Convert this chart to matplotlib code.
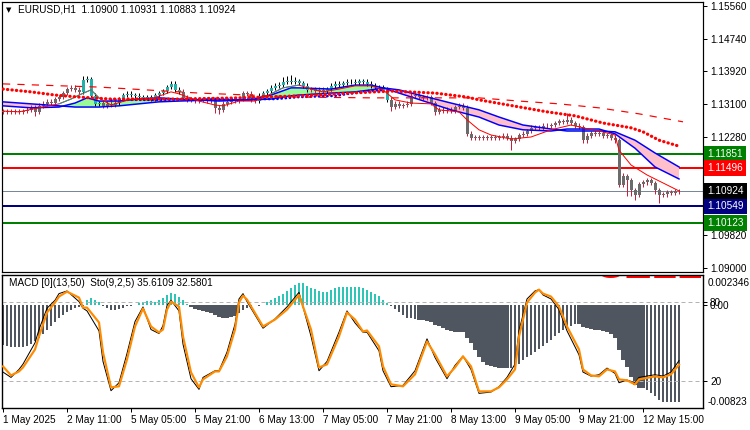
import numpy as np
import matplotlib.pyplot as plt
from matplotlib.transforms import blended_transform_factory

# EURUSD H1, 1 May - 12 May 2025 (one value per hourly bar)
closes = [
    1.1291, 1.1293, 1.1291, 1.1293, 1.1291, 1.1293, 1.1296, 1.1301, 1.1291, 1.1306,
    1.1311, 1.1316, 1.1313, 1.1323, 1.1328, 1.1338, 1.1348, 1.1351, 1.1346, 1.1341,
    1.1371, 1.1373, 1.1331, 1.1311, 1.1313, 1.1306, 1.1311, 1.1308, 1.1313, 1.1323,
    1.1333, 1.1336, 1.1333, 1.1331, 1.1328, 1.1326, 1.1328, 1.1323, 1.1333, 1.1338,
    1.1343, 1.1353, 1.1361, 1.1346, 1.1341, 1.1326, 1.1321, 1.1323, 1.1318, 1.1321,
    1.1323, 1.1318, 1.1321, 1.1301, 1.1296, 1.1311, 1.1316, 1.1321, 1.1318, 1.1323,
    1.1338, 1.1336, 1.1321, 1.1318, 1.1331, 1.1338, 1.1343, 1.1351, 1.1356, 1.1358,
    1.1366, 1.1368, 1.1366, 1.1368, 1.1363, 1.1356, 1.1346, 1.1348, 1.1343, 1.1346,
    1.1343, 1.1348, 1.1356, 1.1361, 1.1358, 1.1363, 1.1366, 1.1366, 1.1363, 1.1368,
    1.1366, 1.1361, 1.1356, 1.1353, 1.1353, 1.1346, 1.1321, 1.1303, 1.1311, 1.1306,
    1.1308, 1.1311, 1.1331, 1.1333, 1.1328, 1.1326, 1.1328, 1.1313, 1.1291, 1.1296,
    1.1293, 1.1296, 1.1293, 1.1303, 1.1306, 1.1301, 1.1236, 1.1226, 1.1228, 1.1226,
    1.1228, 1.1226, 1.1228, 1.1226, 1.1228, 1.1231, 1.1226, 1.1218, 1.1223, 1.1233,
    1.1236, 1.1243, 1.1251, 1.1253, 1.1251, 1.1256, 1.1256, 1.1258, 1.1263, 1.1268,
    1.1266, 1.1271, 1.1263, 1.1256, 1.1253, 1.1220, 1.1231, 1.1238, 1.1236, 1.1238,
    1.1231, 1.1233, 1.1226, 1.1220, 1.1108, 1.1130, 1.1120, 1.1095, 1.1083, 1.1110,
    1.1115, 1.1120, 1.1113, 1.1095, 1.1083, 1.1085, 1.1090, 1.1088, 1.1093, 1.10924,
]
first_open = 1.1293
# wick lengths above / below the body, in pips
wick_up = [
    6, 6, 6, 6, 6, 6, 6, 6, 6, 6,   6, 6, 6, 6, 6, 6, 6, 6, 6, 6,
    10, 8, 6, 6, 6, 6, 6, 6, 6, 6,  6, 6, 6, 6, 6, 6, 6, 6, 6, 6,
    6, 6, 6, 6, 6, 6, 6, 6, 6, 6,   6, 6, 6, 6, 6, 6, 6, 6, 6, 6,
    6, 6, 6, 6, 6, 6, 6, 6, 8, 8,   12, 12, 14, 10, 6, 6, 6, 6, 6, 6,
    6, 6, 6, 6, 6, 6, 6, 6, 6, 6,   6, 6, 6, 6, 6, 6, 6, 6, 6, 6,
    6, 6, 6, 6, 6, 6, 6, 6, 6, 6,   6, 6, 6, 6, 6, 6, 6, 6, 6, 6,
    6, 6, 6, 6, 6, 6, 6, 6, 6, 6,   6, 6, 6, 6, 6, 6, 6, 6, 6, 6,
    6, 18, 6, 6, 6, 6, 6, 6, 6, 6,  6, 6, 6, 6, 6, 8, 6, 6, 6, 6,
    6, 6, 6, 6, 6, 6, 6, 6, 6, 6,
]
wick_dn = [
    6, 6, 6, 6, 6, 6, 6, 6, 10, 6,  6, 6, 6, 6, 6, 6, 6, 6, 6, 6,
    6, 6, 6, 6, 6, 6, 6, 6, 6, 6,   6, 6, 6, 6, 6, 6, 6, 6, 6, 6,
    6, 6, 6, 6, 6, 6, 6, 6, 6, 6,   6, 6, 6, 12, 10, 6, 6, 6, 6, 6,
    6, 6, 6, 6, 6, 6, 6, 6, 6, 6,   6, 6, 6, 6, 6, 6, 6, 6, 6, 6,
    6, 6, 6, 6, 6, 6, 6, 6, 6, 6,   6, 6, 6, 6, 6, 6, 6, 10, 6, 6,
    6, 6, 6, 6, 6, 6, 6, 6, 8, 6,   6, 6, 6, 6, 6, 6, 6, 6, 6, 6,
    6, 6, 6, 6, 6, 6, 6, 22, 6, 6,  6, 6, 6, 6, 6, 6, 6, 6, 6, 6,
    6, 6, 6, 6, 6, 6, 6, 6, 6, 6,   6, 6, 6, 6, 6, 6, 40, 14, 12, 6,
    6, 6, 6, 10, 20, 6, 6, 6, 6, 6,
]
# bars painted in the bullish colour
bull_runs = [(20, 24), (29, 44), (64, 76), (81, 96)]

# moving averages, read at a few bars
dash_idx = [0, 24, 49, 74, 92, 119, 129, 139, 149, 159, 170]
dash_ma = [1.1361, 1.1353, 1.1338, 1.1328, 1.1326, 1.1326, 1.1318, 1.1311, 1.1301, 1.1286, 1.1266]

rdot_idx = [0, 7, 13, 19, 27, 44, 59, 74, 87, 97, 108, 116, 119, 136, 143, 150, 157, 160, 164, 169]
rdot_ma = [1.1348, 1.1341, 1.1333, 1.1328, 1.1323, 1.1323, 1.1326, 1.1331, 1.1338, 1.1343,
           1.1338, 1.1328, 1.1321, 1.1291, 1.1281, 1.1263, 1.1251, 1.1241, 1.1220, 1.1205]

bdot_idx = [27, 44, 62, 68, 74, 83, 91, 95]
bdot_ma = [1.1321, 1.1321, 1.1323, 1.1323, 1.1328, 1.1331, 1.1343, 1.1346]

band_idx = [0, 7, 14, 18, 21, 24, 29, 34, 39, 44, 54, 62, 67, 72, 74, 82, 88, 92, 95,
            99, 112, 119, 124, 130, 137, 141, 149, 153, 158, 163, 169]
band_slow = [1.1316, 1.1311, 1.1306, 1.1303, 1.1303, 1.1303, 1.1306, 1.1311, 1.1316, 1.1318,
             1.1321, 1.1321, 1.1323, 1.1331, 1.1333, 1.1338, 1.1341, 1.1346, 1.1351,
             1.1346, 1.1313, 1.1296, 1.1278, 1.1258, 1.1248, 1.1243, 1.1243, 1.1241, 1.1220,
             1.1188, 1.1153]
band_fast = [1.1306, 1.1301, 1.1303, 1.1313, 1.1326, 1.1318, 1.1318, 1.1323, 1.1326, 1.1323,
             1.1318, 1.1321, 1.1333, 1.1351, 1.1351, 1.1348, 1.1358, 1.1358, 1.1351,
             1.1338, 1.1296, 1.1278, 1.1258, 1.1246, 1.1243, 1.1248, 1.1248, 1.1236, 1.1200,
             1.1153, 1.1123]

thin_idx = [0, 4, 9, 14, 17, 19, 22, 24, 27, 32, 37, 42, 44, 49, 53, 55, 59, 63, 67, 70, 74,
            77, 80, 84, 88, 92, 95, 98, 102, 107, 109, 114, 116, 119, 122, 127, 132, 137,
            142, 145, 149, 153, 154, 157, 161, 164, 169]
thin_ma = [1.1293, 1.1291, 1.1301, 1.1311, 1.1323, 1.1333, 1.1346, 1.1326, 1.1308, 1.1323,
           1.1323, 1.1341, 1.1336, 1.1318, 1.1308, 1.1306, 1.1318, 1.1318, 1.1336, 1.1351,
           1.1358, 1.1348, 1.1341, 1.1348, 1.1356, 1.1356, 1.1346, 1.1321, 1.1313, 1.1311,
           1.1296, 1.1291, 1.1271, 1.1246, 1.1233, 1.1223, 1.1228, 1.1246, 1.1258, 1.1251,
           1.1243, 1.1233, 1.1195, 1.1158, 1.1133, 1.1118, 1.1093]
thin_bull = [(14, 24), (67, 76)]

# horizontal levels: value, colour
levels = [(1.11851, "#008000"), (1.11496, "#ff0000"), (1.10549, "#000080"), (1.10123, "#008000")]
last_price = 1.10924
price_ticks = [1.09000, 1.09820, 1.10640, 1.11460, 1.12280, 1.13100, 1.13920, 1.14740, 1.15560]
hidden_ticks = [1.10640, 1.11460]  # covered by the level tags

# MACD histogram, one value per bar
macd = [
    -0.00322, -0.00330, -0.00338, -0.00338, -0.00338, -0.00338, -0.00330, -0.00314, -0.00290, -0.00266,
    -0.00235, -0.00203, -0.00171, -0.00139, -0.00107, -0.00083, -0.00060, -0.00044, -0.00028, -0.00020,
    -0.00012, 0.00036, 0.00052, 0.00036, 0.00020, -0.00012, -0.00028, -0.00044, -0.00044, -0.00036,
    -0.00028, -0.00012, -0.00012, -0.00004, 0.00012, 0.00020, 0.00028, 0.00028, 0.00020, 0.00036,
    0.00052, 0.00076, 0.00091, 0.00083, 0.00060, 0.00036, 0.00004, -0.00020, -0.00036, -0.00044,
    -0.00052, -0.00060, -0.00068, -0.00083, -0.00099, -0.00107, -0.00107, -0.00099, -0.00091, -0.00068,
    -0.00044, -0.00028, -0.00012, -0.00004, -0.00012, -0.00004, 0.00020, 0.00036, 0.00052, 0.00068,
    0.00083, 0.00107, 0.00131, 0.00155, 0.00171, 0.00171, 0.00147, 0.00131, 0.00123, 0.00107,
    0.00099, 0.00099, 0.00115, 0.00131, 0.00139, 0.00139, 0.00139, 0.00139, 0.00139, 0.00139,
    0.00131, 0.00115, 0.00099, 0.00083, 0.00068, 0.00036, 0.00012, -0.00012, -0.00036, -0.00060,
    -0.00083, -0.00107, -0.00107, -0.00115, -0.00123, -0.00123, -0.00131, -0.00139, -0.00163, -0.00171,
    -0.00187, -0.00203, -0.00211, -0.00219, -0.00219, -0.00219, -0.00266, -0.00306, -0.00362, -0.00417,
    -0.00457, -0.00481, -0.00489, -0.00497, -0.00505, -0.00505, -0.00505, -0.00505, -0.00497, -0.00473,
    -0.00441, -0.00417, -0.00401, -0.00378, -0.00354, -0.00330, -0.00306, -0.00282, -0.00250, -0.00227,
    -0.00203, -0.00187, -0.00171, -0.00155, -0.00155, -0.00179, -0.00187, -0.00195, -0.00203, -0.00203,
    -0.00211, -0.00219, -0.00235, -0.00266, -0.00362, -0.00441, -0.00497, -0.00576, -0.00640, -0.00664,
    -0.00664, -0.00680, -0.00704, -0.00727, -0.00759, -0.00775, -0.00775, -0.00775, -0.00775, -0.00775,
]
macd_solid = [(47, 58), (104, 126), (144, 160)]

# Stochastic (9,2,5): main (black) and signal (orange)
sto_idx = [0, 2, 4, 5, 8, 9, 11, 13, 14, 16, 19, 20, 21, 24, 25, 27, 29, 31, 33, 35,
           37, 39, 40, 41, 42, 44, 45, 47, 49, 50, 53, 54, 56, 58, 59, 60, 61, 65, 68, 71,
           74, 77, 79, 81, 84, 86, 88, 90, 91, 94, 95, 97, 100, 103, 106, 108, 111, 113, 115, 117,
           119, 122, 124, 126, 128, 129, 131, 133, 134, 135, 137, 139, 141, 144, 145, 147, 149, 151, 153, 154,
           156, 158, 159, 163, 165, 167, 169]
sto_sig = [31.3, 24.5, 27.5, 30.5, 44, 53.8, 71.8, 79.3, 83.8, 87.5, 83, 75.5, 75.5, 64.3, 41.8, 15.5, 16.3, 36.5, 61.3, 74.8,
           61.3, 56.8, 59, 74, 80, 76.3, 53.8, 26.8, 15.5, 21.5, 27.5, 27.5, 38.8, 59, 79.3, 84.5, 81.5, 61.3, 66.5, 74,
           85, 59, 30.5, 32.8, 53.8, 71.8, 66.5, 57.5, 58.3, 46.3, 31.3, 17.8, 16.3, 25.3, 50, 40.3, 23.8, 30.5, 38.8, 31.3,
           12.5, 12.5, 15.5, 21.5, 29, 53.8, 79.3, 86.8, 89, 86, 83.8, 76.3, 61.3, 44, 29, 24.5, 23.8, 29, 27.5, 21.5,
           20.8, 17.8, 21.5, 23.8, 23, 25.3, 32.58]
sto_main = [27, 23, 29, 33, 49, 59, 75, 81, 86, 88, 80, 75, 73, 58, 35, 13, 19, 41, 65, 76,
            59, 56, 62, 77, 81, 73, 48, 22, 14, 23, 28, 28, 42, 63, 82, 86, 80, 60, 67, 76,
            87, 54, 28, 35, 57, 73, 64, 57, 57, 43, 28, 16, 17, 28, 52, 38, 22, 32, 39, 29,
            11, 12, 16, 23, 33, 58, 82, 88, 89, 85, 82, 74, 58, 40, 27, 24, 25, 30, 26, 19,
            21, 19, 23, 25, 24, 27, 35.61]

date_idx = [0, 16, 32, 48, 64, 80, 96, 112, 128, 144, 160]
date_labels = ["1 May 2025", "2 May 11:00", "5 May 05:00", "5 May 21:00", "6 May 13:00",
               "7 May 05:00", "7 May 21:00", "8 May 13:00", "9 May 05:00", "9 May 21:00",
               "12 May 15:00"]

plt.rcParams["font.family"] = ["Liberation Sans", "DejaVu Sans"]

W, H = 750, 430
PX = 0.72  # one pixel in points
fs = 7.2

fig = plt.figure(figsize=(W / 100, H / 100), dpi=100)
ax = fig.add_axes([2 / W, 1 - 272 / H, 701 / W, 270 / H])
axm = fig.add_axes([2 / W, 1 - 408 / H, 701 / W, 133 / H])
axs = axm.twinx()

n = len(closes)
xs = np.arange(n)
opens = np.array([first_open] + closes[:-1])
cl = np.array(closes)
hi = np.maximum(opens, cl) + np.array(wick_up) * 1e-4
lo = np.minimum(opens, cl) - np.array(wick_dn) * 1e-4
bull = np.zeros(n, bool)
for a, b in bull_runs:
    bull[a:b + 1] = True

body_col = np.where(bull, "#20b2aa", "#6b6b6b")
wick_col = np.where(bull, "#000000", "#c8203c")

# --- price panel ---
for y, c in levels:
    ax.axhline(y, color=c, lw=2 * PX, zorder=1)
ax.axhline(last_price, color="#778899", lw=1 * PX, zorder=1)

ax.vlines(xs, lo, hi, colors=wick_col, lw=1 * PX, zorder=3)
bottoms = np.minimum(opens, cl)
heights = np.maximum(np.abs(cl - opens), 0.00004)
ax.bar(xs, heights, bottom=bottoms, width=0.75, color=body_col, zorder=4)

bi = np.array(band_idx)
bs = np.array(band_slow)
bf = np.array(band_fast)
ax.fill_between(bi, bs, bf, where=bf <= bs, interpolate=True, color="#ffc0cb", lw=0, zorder=2)
ax.fill_between(bi, bs, bf, where=bf >= bs, interpolate=True, color="#98fb98", lw=0, zorder=2)
ax.plot(bi, bs, color="#0000ff", lw=1.5 * PX, zorder=5)
ax.plot(bi, bf, color="#0000ff", lw=1.5 * PX, zorder=5)

ax.plot(bdot_idx, bdot_ma, color="#0000ff", lw=2.6 * PX, ls=(0, (0.1, 1.5)),
        dash_capstyle="round", zorder=5)
ax.plot(rdot_idx, rdot_ma, color="#ff0000", lw=3.2 * PX, ls=(0, (0.1, 1.3)),
        dash_capstyle="round", zorder=6)
ax.plot(dash_idx, dash_ma, color="#ff0000", lw=1.2 * PX, ls=(0, (6, 6)), zorder=5)

ti = np.array(thin_idx)
tm = np.array(thin_ma)
ax.plot(ti, tm, color="#ff0000", lw=1 * PX, zorder=5)
for a, b in thin_bull:
    m = (ti >= a) & (ti <= b)
    ax.plot(ti[m], tm[m], color="#20a090", lw=1 * PX, zorder=5)

ax.set_xlim(-0.25, 175)
ax.set_ylim(1.08900, 1.15660)
ax.set_xticks([])
ax.yaxis.tick_right()
ax.set_yticks(price_ticks)
ax.set_yticklabels(["" if v in hidden_ticks else f"{v:.5f}" for v in price_ticks])
ax.tick_params(axis="y", labelsize=fs, length=3, width=PX, pad=2)
for s in ax.spines.values():
    s.set_linewidth(1.2 * PX)

tr = blended_transform_factory(ax.transAxes, ax.transData)
for y, c in levels + [(last_price, "#000000")]:
    ax.text(1.006, y, f"{y:.5f}", transform=tr, color="white", fontsize=fs, va="center",
            ha="left", clip_on=False, zorder=10,
            bbox=dict(boxstyle="square,pad=0.3", fc=c, ec="none"))

fig.text(6 / W, 1 - 10 / H, "▼", fontsize=5, va="center", ha="left",
         family=["DejaVu Sans"])
fig.text(18 / W, 1 - 10 / H, "EURUSD,H1  1.10900 1.10931 1.10883 1.10924",
         fontsize=fs, va="center", ha="left")

# --- MACD + stochastic panel ---
mv = np.array(macd)
mcol = np.where(mv >= 0, "#2ec4b6", "#4f5660")
mw = np.full(n, 0.7)
for a, b in macd_solid:
    mw[a:b + 1] = 1.0
axm.bar(xs, mv, width=mw, color=mcol, lw=0, zorder=2)
axm.set_ylim(-0.00823, 0.002346)
axm.set_xlim(-0.25, 175)

axs.axhline(80, color="#b4b4b4", lw=1 * PX, ls=(0, (4, 3)), zorder=1)
axs.axhline(20, color="#b4b4b4", lw=1 * PX, ls=(0, (4, 3)), zorder=1)
axs.plot(sto_idx, sto_main, color="black", lw=1 * PX, zorder=3)
axs.plot(sto_idx, sto_sig, color="#ff8c00", lw=2.2 * PX, zorder=4)
axs.set_ylim(0, 100)

# signal watermark, mostly hidden above the sub-window
axs.text(148.5, 97.6, "SELL", fontsize=30, fontweight="bold", color="#ff0000",
         ha="left", va="baseline", clip_on=True, zorder=0)

axm.yaxis.tick_right()
axm.set_yticks([0])
axm.set_yticklabels(["0.00"])
axs.set_yticks([20, 80])
axs.set_yticklabels(["20", "80"])
for a_ in (axm, axs):
    a_.tick_params(axis="y", labelsize=fs, length=3, width=PX, pad=2)
    for s in a_.spines.values():
        s.set_linewidth(1.2 * PX)

axm.text(1.006, 0.94, "0.002346", transform=axm.transAxes, fontsize=fs, va="center", ha="left")
axm.text(1.006, 0.045, "-0.00823", transform=axm.transAxes, fontsize=fs, va="center", ha="left")

axm.set_xticks(date_idx)
axm.set_xticklabels(date_labels)
for lab in axm.get_xticklabels():
    lab.set_ha("left")
axm.tick_params(axis="x", labelsize=fs, length=3, width=PX, pad=2)

axm.text(0.01, 0.94, "MACD [0](13,50)  Sto(9,2,5) 35.6109 32.5801",
         transform=axm.transAxes, fontsize=fs, va="center", ha="left", zorder=6)

fig.savefig("out.png", dpi=100)
